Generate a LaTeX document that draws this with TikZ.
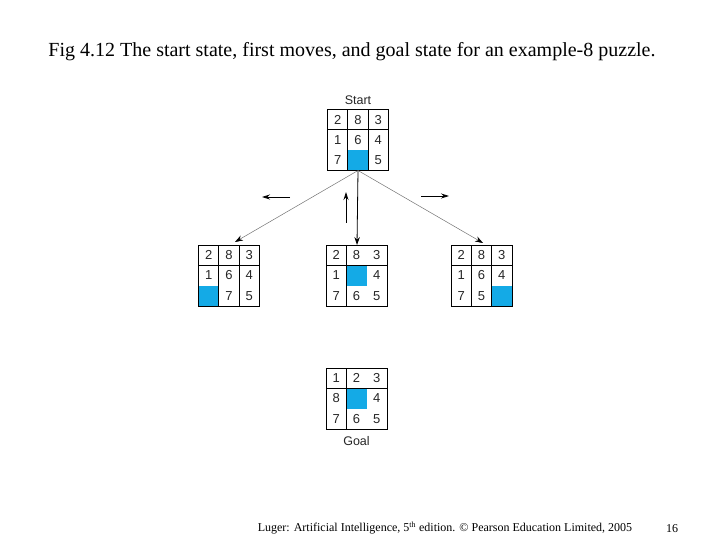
\documentclass[tikz,border=0pt]{standalone}
\usepackage{fontspec}
\setmainfont{Liberation Serif}
\newfontfamily\helv{Liberation Sans}
\usetikzlibrary{arrows.meta,positioning,calc}

\definecolor{tileblue}{RGB}{20,170,230}
\newcommand{\cw}{20.33}

% one board: tiles row by row, 0 = blank
\newcommand{\puzzletiles}[2]{%
  \foreach \t [count=\k from 0] in {#2} {
    \pgfmathtruncatemacro\rr{div(\k,3)}
    \pgfmathtruncatemacro\cc{mod(\k,3)}
    \ifnum\t=0
      \fill[tileblue] ($(#1.north west)+(\cc*\cw,\rr*\cw)$) rectangle +(\cw,\cw);
    \else
      \node[num] at ($(#1.north west)+(\cc*\cw+\cw/2,\rr*\cw+\cw/2)$) {\t};
    \fi
  }
  \draw[gridline] (#1.north west) rectangle (#1.south east);
  \draw[gridline] ($(#1.north west)+(0,\cw)$) -- ++(3*\cw,0);
}

\tikzset{
  board/.style={minimum size=61pt, inner sep=0pt, outer sep=0pt},
  num/.style={font=\helv\fontsize{13}{15}\selectfont, text=black!85},
  lbl/.style={font=\helv\fontsize{12.5}{14}\selectfont, text=black!85},
  gridline/.style={black, line width=0.8pt},
  link/.style={black!55, line width=0.5pt, -{Stealth[black, length=8pt, width=5.5pt]}},
  move/.style={black, line width=0.8pt, -{Stealth[length=8pt, width=5pt]}},
}

\begin{document}
\begin{tikzpicture}[x=1pt, y=-1pt]
  \useasboundingbox (0,0) rectangle (720,540);

  \node[font=\fontsize{20}{22}\selectfont] (title) at (352,52)
    {Fig 4.12 The start state, first moves, and goal state for an example-8 puzzle.};

  % boards
  \node[board] (start) at (358,140) {};
  \node[board] (left) at (229,275.5) {};
  \node[board] (mid) at (356.5,275.5) {};
  \node[board] (right) at (481.5,275.5) {};
  \node[board] (goal) at (356.5,398.5) {};

  \puzzletiles{start}{2,8,3,1,6,4,7,0,5}
  \puzzletiles{left}{2,8,3,1,6,4,0,7,5}
  \puzzletiles{mid}{2,8,3,1,0,4,7,6,5}
  \puzzletiles{right}{2,8,3,1,6,4,7,5,0}
  \puzzletiles{goal}{1,2,3,8,0,4,7,6,5}

  \foreach \b in {start,left,right} {
    \foreach \v in {1,2}
      \draw[gridline] ($(\b.north west)+(\v*\cw,0)$) -- ++(0,3*\cw);
  }
  \foreach \b in {mid,goal}
    \draw[gridline] ($(\b.north west)+(\cw,0)$) -- ++(0,3*\cw);

  \node[lbl, above=1pt of start] (startlbl) {Start};
  \node[lbl, below=4pt of goal] (goallbl) {Goal};

  % moves of the blank
  \draw[link] (start.south) -- ([xshift=6pt, yshift=3pt]left.north);
  \draw[link, black, line width=0.8pt] (start.south) -- ([xshift=0.5pt]mid.north);
  \draw[link] (start.south) -- ([xshift=1.5pt, yshift=2pt]right.north);

  \coordinate (lfrom) at (290,197);
  \coordinate (lto) at (262,197);
  \coordinate (ufrom) at (346,223);
  \coordinate (uto) at (346,192);
  \coordinate (rfrom) at (421,196);
  \coordinate (rto) at (449,196);
  \draw[move] (lfrom) -- (lto);
  \draw[move] (ufrom) -- (uto);
  \draw[move] (rfrom) -- (rto);

  \node[font=\fontsize{12}{14}\selectfont] (credit) at (445,528)
    {Luger: Artificial Intelligence, 5\textsuperscript{th} edition. \textcopyright{} Pearson Education Limited, 2005};
  \node[font=\fontsize{12}{14}\selectfont] (page) at (672,529) {16};
\end{tikzpicture}
\end{document}
